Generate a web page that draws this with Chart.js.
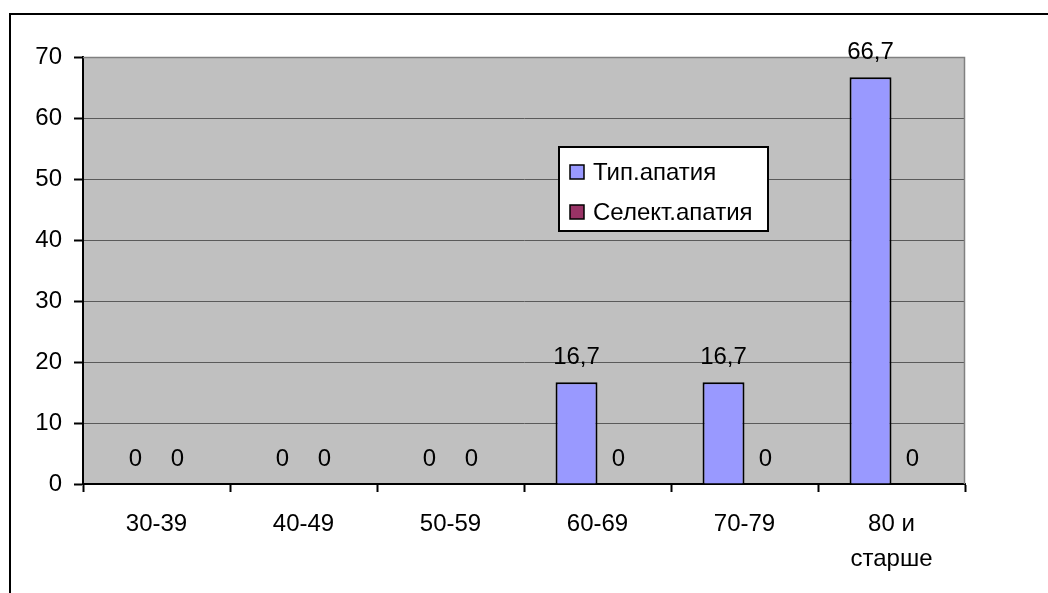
<!DOCTYPE html>
<html>
<head>
<meta charset="utf-8">
<script src="https://cdn.jsdelivr.net/npm/chart.js@4/dist/chart.umd.min.js"></script>
<style>
  html, body { margin: 0; padding: 0; background: #ffffff; }
  #wrap { width: 1048px; height: 593px; position: relative; }
  canvas { display: block; }
</style>
</head>
<body>
<div id="wrap"><canvas id="c" width="1048" height="593"></canvas></div>
<script>
// Age groups and the share of each apathy type (%)
const ageGroups = ['30-39', '40-49', '50-59', '60-69', '70-79', ['80 и', 'старше']];
const typicalApathy = [0, 0, 0, 16.7, 16.7, 66.7];
const selectiveApathy = [0, 0, 0, 0, 0, 0];
const seriesNames = ['Тип.апатия', 'Селект.апатия'];
const yTicks = { min: 0, max: 70, step: 10 };

const FONT = '"Liberation Sans", Arial, sans-serif';
const FONT_SIZE = 24;

// Grey plot background with a thin darker frame on top and right
const plotBackground = {
  id: 'plotBackground',
  beforeDraw(chart) {
    const { ctx, chartArea: a } = chart;
    ctx.save();
    ctx.fillStyle = '#ffffff';
    ctx.fillRect(0, 0, chart.width, chart.height);
    ctx.fillStyle = '#C0C0C0';
    ctx.fillRect(a.left, a.top, a.right - a.left, a.bottom - a.top);
    // outer chart frame (top and left edges)
    ctx.strokeStyle = '#000000';
    ctx.lineWidth = 2;
    ctx.beginPath();
    ctx.moveTo(10, 593);
    ctx.lineTo(10, 14);
    ctx.lineTo(1048, 14);
    ctx.stroke();
    ctx.restore();
  },
  beforeDatasetsDraw(chart) {
    const { ctx, chartArea: a } = chart;
    ctx.save();
    ctx.strokeStyle = '#808080';
    ctx.lineWidth = 1.5;
    ctx.beginPath();
    ctx.moveTo(a.left, a.top + 0.5);
    ctx.lineTo(a.right - 0.5, a.top + 0.5);
    ctx.lineTo(a.right - 0.5, a.bottom);
    ctx.stroke();
    ctx.restore();
  }
};

// Value labels above each bar, decimal comma
const valueLabels = {
  id: 'valueLabels',
  afterDatasetsDraw(chart) {
    const { ctx } = chart;
    ctx.save();
    ctx.font = FONT_SIZE + 'px ' + FONT;
    ctx.fillStyle = '#000000';
    ctx.textAlign = 'center';
    ctx.textBaseline = 'alphabetic';
    chart.data.datasets.forEach((ds, di) => {
      const meta = chart.getDatasetMeta(di);
      meta.data.forEach((el, i) => {
        const txt = String(ds.data[i]).replace('.', ',');
        ctx.fillText(txt, el.x, el.y - 18);
      });
    });
    ctx.restore();
  }
};

// Boxed legend inside the plot area
const boxLegend = {
  id: 'boxLegend',
  afterDraw(chart) {
    const { ctx } = chart;
    const x = 559, y = 147, w = 209, h = 84;
    ctx.save();
    ctx.fillStyle = '#ffffff';
    ctx.fillRect(x, y, w, h);
    ctx.strokeStyle = '#000000';
    ctx.lineWidth = 2;
    ctx.strokeRect(x, y, w, h);
    ctx.font = FONT_SIZE + 'px ' + FONT;
    ctx.textAlign = 'left';
    ctx.textBaseline = 'middle';
    chart.data.datasets.forEach((ds, i) => {
      const cy = y + 25 + i * 40;
      ctx.fillStyle = ds.backgroundColor;
      ctx.fillRect(x + 11, cy - 7, 14, 14);
      ctx.lineWidth = 1.5;
      ctx.strokeStyle = '#000000';
      ctx.strokeRect(x + 11, cy - 7, 14, 14);
      ctx.fillStyle = '#000000';
      ctx.fillText(ds.label, x + 34, cy + 1);
    });
    ctx.restore();
  }
};

new Chart(document.getElementById('c'), {
  type: 'bar',
  data: {
    labels: ageGroups,
    datasets: [
      { label: seriesNames[0], data: typicalApathy, backgroundColor: '#9999FF', borderColor: '#000000', borderWidth: 2 },
      { label: seriesNames[1], data: selectiveApathy, backgroundColor: '#993366', borderColor: '#000000', borderWidth: 2 }
    ]
  },
  options: {
    responsive: false,
    animation: false,
    devicePixelRatio: 1,
    layout: { padding: { top: 57, right: 83, left: 0, bottom: 0 } },
    datasets: { bar: { categoryPercentage: 0.571, barPercentage: 1.0 } },
    plugins: { legend: { display: false }, tooltip: { enabled: false } },
    scales: {
      x: {
        afterFit(scale) { scale.height = 109; },
        grid: { offset: true, drawOnChartArea: false, tickLength: 8, tickColor: '#000000', tickWidth: 2 },
        border: { color: '#000000', width: 2 },
        ticks: { color: '#000000', padding: 15, maxRotation: 0, autoSkip: false,
                 font: { family: FONT, size: FONT_SIZE, lineHeight: 1.45 } }
      },
      y: {
        min: yTicks.min, max: yTicks.max,
        afterFit(scale) { scale.width = 83; },
        grid: { color: '#5a5a5a', lineWidth: 1, borderDash: [1, 1], tickLength: 9, tickColor: '#000000', tickWidth: 2, tickBorderDash: [] },
        border: { color: '#000000', width: 2 },
        ticks: { stepSize: yTicks.step, color: '#000000', padding: 12,
                 font: { family: FONT, size: FONT_SIZE } }
      }
    }
  },
  plugins: [plotBackground, valueLabels, boxLegend]
});
</script>
</body>
</html>
